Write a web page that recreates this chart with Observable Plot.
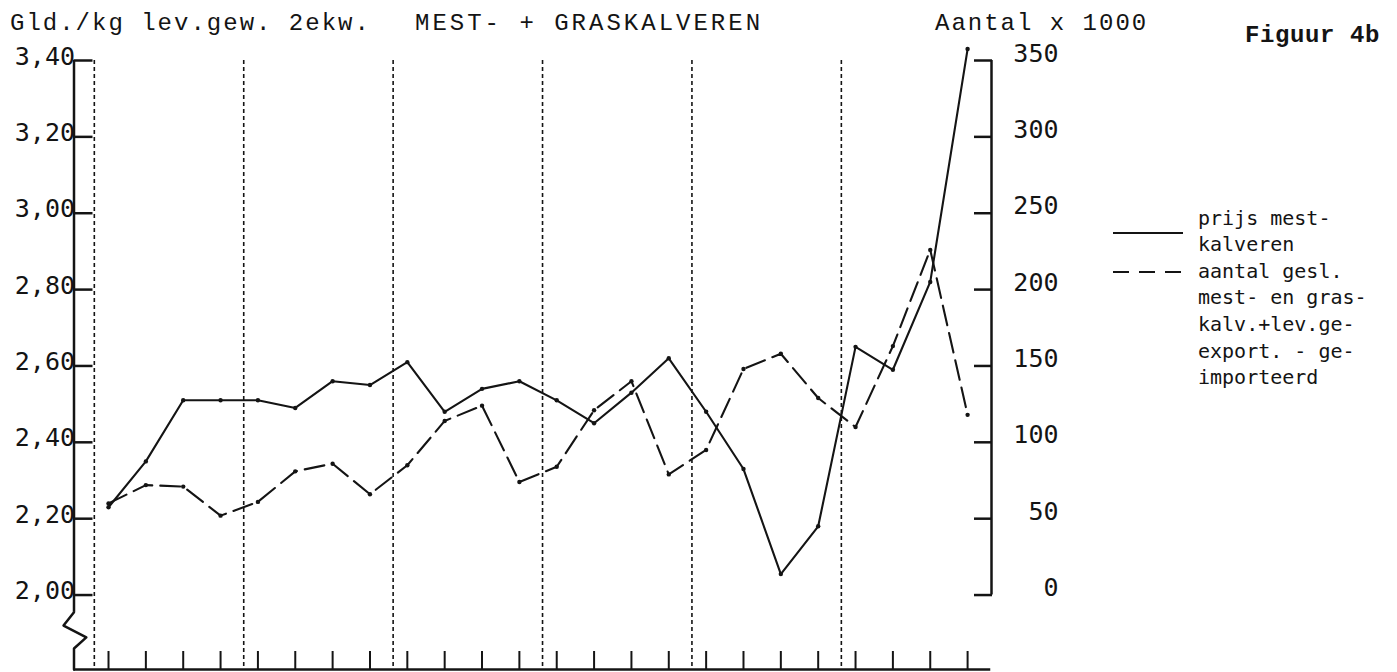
<!DOCTYPE html>
<html><head><meta charset="utf-8">
<script src="https://cdn.jsdelivr.net/npm/d3@7"></script>
<script src="https://cdn.jsdelivr.net/npm/@observablehq/plot@0.6"></script>
<style>
html,body{margin:0;padding:0;background:#fff;}
#chart{position:relative;width:1397px;height:672px;overflow:hidden;}
</style>
</head><body><div id="chart"></div>
<script>
// 24 quarters (6 years x 4)
const quarters = d3.range(1, 25);
// price of veal calves, Gld./kg live weight
const priceMestkalveren = [2.23, 2.35, 2.51, 2.51, 2.51, 2.49, 2.56, 2.55, 2.61, 2.48, 2.54, 2.56,
                           2.51, 2.45, 2.53, 2.62, 2.48, 2.33, 2.055, 2.18, 2.65, 2.59, 2.82, 3.43];
// number slaughtered + exported - imported, x 1000
const aantalGeslacht = [60, 72, 71, 52, 61, 81, 86, 66, 85, 114, 124, 74,
                        84, 121, 140, 79, 95, 148, 158, 129, 110, 163, 226, 118];
const yearStartQuarters = [1, 5, 9, 13, 17, 21];
const priceTicks = [2.0, 2.2, 2.4, 2.6, 2.8, 3.0, 3.2, 3.4];
const countTicks = [0, 50, 100, 150, 200, 250, 300, 350];
const titleLeft = "Gld./kg lev.gew. 2ekw.";
const titleMain = "MEST- + GRASKALVEREN";
const titleRight = "Aantal x 1000";
const figureLabel = "Figuur 4b";
const legendLines = ["prijs mest-", "kalveren", "aantal gesl.", "mest- en gras-", "kalv.+lev.ge-", "export. - ge-", "importeerd"];

// both axes share the frame: 0 (x1000) <-> 2,00 and 350 <-> 3,40
const countToPrice = c => 2 + c / 250;
const X0 = 0.076, X1 = 24.64, Y0 = 1.805, Y1 = 3.4;
const ink = "#141414";
const tickFont = "DejaVu Sans Mono, monospace";

const priceData = quarters.map((q, i) => ({q, v: priceMestkalveren[i]}));
const countData = quarters.map((q, i) => ({q, v: countToPrice(aantalGeslacht[i])}));
const breakPath = [
  {x: X0, y: 1.955}, {x: X0 - 0.28, y: 1.92}, {x: X0 + 0.33, y: 1.889},
  {x: X0, y: 1.86}, {x: X0, y: Y0}
];

const svg = Plot.plot({
  width: 1397, height: 672,
  marginLeft: 73.5, marginRight: 406, marginTop: 60, marginBottom: 3,
  style: {background: "#fff", color: ink, overflow: "visible"},
  x: {domain: [X0, X1]},
  y: {domain: [Y0, Y1]},
  marks: [
    // year separators (dotted)
    Plot.ruleX(yearStartQuarters, {x: d => d - 0.38, y1: Y1, y2: Y0, stroke: ink, strokeWidth: 1.6, strokeDasharray: "4,3"}),
    // left axis with break
    Plot.ruleX([X0], {y1: 1.955, y2: Y1, stroke: ink, strokeWidth: 2.5}),
    Plot.line(breakPath, {x: "x", y: "y", stroke: ink, strokeWidth: 2.5, curve: "linear"}),
    // right axis
    Plot.ruleX([X1], {y1: countToPrice(0), y2: countToPrice(350), stroke: ink, strokeWidth: 2.5}),
    // bottom axis
    Plot.ruleY([Y0], {x1: X0, x2: X1 - 0.02, stroke: ink, strokeWidth: 2.5}),
    Plot.axisX(quarters, {anchor: "bottom", tickSize: 18, dy: -18, fill: "none", label: null, strokeWidth: 2}),
    // left axis ticks + labels
    Plot.axisY(priceTicks, {anchor: "left", tickSize: 19, dx: 19, fill: "none", label: null, strokeWidth: 2.5}),
    Plot.axisY(priceTicks, {anchor: "left", tickSize: 0, tickPadding: 0, dx: 1, dy: -4, label: null,
      tickFormat: d => d.toFixed(2).replace(".", ","), fontSize: 25, fontFamily: tickFont, fill: ink}),
    // right axis ticks + labels
    Plot.axisY(countTicks.map(countToPrice), {anchor: "right", tickSize: 18, dx: -18, fill: "none", label: null, strokeWidth: 2.5}),
    Plot.axisY(countTicks.map(countToPrice), {anchor: "right", tickSize: 0, tickPadding: 67, textAnchor: "end", dy: -7, label: null,
      tickFormat: d => String(Math.round((d - 2) * 250)), fontSize: 25, fontFamily: tickFont, fill: ink}),
    // series
    Plot.line(priceData, {x: "q", y: "v", stroke: ink, strokeWidth: 2.1}),
    Plot.dot(priceData, {x: "q", y: "v", r: 2.2, fill: ink}),
    Plot.line(countData, {x: "q", y: "v", stroke: ink, strokeWidth: 2.1, strokeDasharray: "20,8"}),
    Plot.dot(countData, {x: "q", y: "v", r: 2.2, fill: ink})
  ]
});

const s = d3.select(svg);
const typewriter = "Liberation Mono, Courier New, monospace";
function addText(str, x, y, size, spacing, weight) {
  s.append("text").attr("x", x).attr("y", y).attr("text-anchor", "start")
    .attr("font-family", typewriter).attr("font-size", size).attr("font-weight", weight || "normal")
    .attr("letter-spacing", spacing).attr("fill", ink).text(str);
}
addText(titleLeft, 10, 30, 24, 2, "normal");
addText(titleMain, 415, 30, 24, 3, "normal");
addText(titleRight, 935, 30, 24, 2, "normal");
addText(figureLabel, 1245, 42, 24, 0.6, "bold");

// legend
s.append("line").attr("x1", 1113).attr("x2", 1183).attr("y1", 233).attr("y2", 233)
  .attr("stroke", ink).attr("stroke-width", 2.2);
s.append("line").attr("x1", 1113).attr("x2", 1181).attr("y1", 272).attr("y2", 272)
  .attr("stroke", ink).attr("stroke-width", 2.2).attr("stroke-dasharray", "16,10");
const lg = s.append("text").attr("text-anchor", "start").attr("font-family", tickFont)
  .attr("font-size", 20).attr("fill", ink);
legendLines.forEach((t, i) => {
  lg.append("tspan").attr("x", 1198).attr("y", 224.5 + i * 26.6).text(t);
});

document.getElementById("chart").appendChild(svg);
</script>
</body></html>
